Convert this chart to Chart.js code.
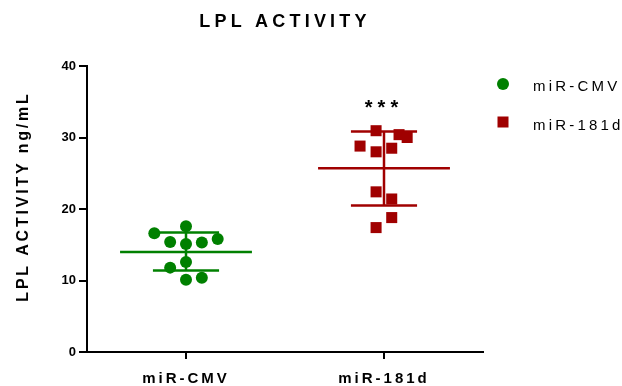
<!DOCTYPE html>
<html>
<head>
<meta charset="utf-8">
<script src="https://cdn.jsdelivr.net/npm/chart.js@4.4.0/dist/chart.umd.min.js"></script>
<style>
    html, body { margin: 0; padding: 0; background: #fff; }
    #wrap { position: relative; width: 622px; height: 386px; }
</style>
</head>
<body>
<div id="wrap"><canvas id="lplChart" width="622" height="386"></canvas></div>
<script>
// Группы и цвета
const groups = ["miR-CMV", "miR-181d"];
const groupColors = ["#008000", "#A00000"];

// Отдельные точки (смещение по x внутри группы и значение)
const cmvOffset = [-0.16, 0, -0.08, 0, 0.08, 0.16, 0, -0.08, 0, 0.08];
const cmvValues = [16.6, 17.6, 15.4, 15.1, 15.3, 15.8, 12.6, 11.8, 10.1, 10.4];
const mir181Offset = [-0.04, 0.076, 0.117, -0.121, -0.04, 0.039, -0.04, 0.039, 0.039, -0.04];
const mir181Values = [30.95, 30.4, 30.0, 28.8, 28.0, 28.5, 22.4, 21.4, 18.8, 17.4];

// Среднее и SD
const groupMean = [14.0, 25.7];
const groupSdLow = [11.4, 20.5];
const groupSdHigh = [16.7, 30.85];

const yTicks = [0, 10, 20, 30, 40];
const sigLabel = "***";
const sigValue = 34;

const FONT = "'Liberation Sans', Arial, sans-serif";
const meanHalf = 0.333;
const sdHalf = 0.167;

function segment(x0, y0, x1, y1, color) {
    return {
        type: "scatter",
        data: [{ x: x0, y: y0 }, { x: x1, y: y1 }],
        showLine: true,
        borderColor: color,
        borderWidth: 2.5,
        pointRadius: 0,
        pointHoverRadius: 0,
    };
}

const lineSets = [];
groups.forEach(function (g, i) {
    const c = i + 1;
    const col = groupColors[i];
    lineSets.push(segment(c - meanHalf, groupMean[i], c + meanHalf, groupMean[i], col));
    lineSets.push(segment(c - sdHalf, groupSdHigh[i], c + sdHalf, groupSdHigh[i], col));
    lineSets.push(segment(c - sdHalf, groupSdLow[i], c + sdHalf, groupSdLow[i], col));
    lineSets.push(segment(c, groupSdLow[i], c, groupSdHigh[i], col));
});

const pointSets = [
    {
        type: "scatter",
        label: groups[0],
        data: cmvValues.map((v, k) => ({ x: 1 + cmvOffset[k], y: v })),
        pointStyle: "circle",
        pointRadius: 6,
        backgroundColor: groupColors[0],
        borderColor: groupColors[0],
        borderWidth: 0,
    },
    {
        type: "scatter",
        label: groups[1],
        data: mir181Values.map((v, k) => ({ x: 2 + mir181Offset[k], y: v })),
        pointStyle: "rect",
        pointRadius: 7.8,
        backgroundColor: groupColors[1],
        borderColor: groupColors[1],
        borderWidth: 0,
    },
];

// Подписи, заголовки и легенда
const textPlugin = {
    id: "texts",
    afterDraw(chart) {
        const ctx = chart.ctx;
        const area = chart.chartArea;
        const xs = chart.scales.x;
        const ys = chart.scales.y;
        ctx.save();
        ctx.fillStyle = "#000";

        // заголовок
        ctx.font = "bold 18px " + FONT;
        ctx.letterSpacing = "4.2px";
        ctx.textAlign = "center";
        ctx.textBaseline = "middle";
        ctx.fillText("LPL ACTIVITY", (area.left + area.right) / 2, 22);

        // подписи категорий
        ctx.font = "bold 15px " + FONT;
        ctx.letterSpacing = "3px";
        ctx.textBaseline = "alphabetic";
        groups.forEach(function (g, i) {
            ctx.fillText(g, xs.getPixelForValue(i + 1), 383);
        });

        // звёздочки
        ctx.font = "bold 20px " + FONT;
        ctx.letterSpacing = "5px";
        ctx.textBaseline = "middle";
        ctx.fillText(sigLabel, xs.getPixelForValue(2), ys.getPixelForValue(sigValue));

        // подпись оси Y
        ctx.save();
        ctx.translate(24, 196.5);
        ctx.rotate(-Math.PI / 2);
        ctx.font = "bold 16px " + FONT;
        ctx.letterSpacing = "2.8px";
        ctx.textBaseline = "middle";
        ctx.fillText("LPL ACTIVITY ng/mL", 0, 0);
        ctx.restore();

        // легенда
        const lx = area.right + 20;
        ctx.fillStyle = groupColors[0];
        ctx.beginPath();
        ctx.arc(lx, 84, 6, 0, Math.PI * 2);
        ctx.fill();
        ctx.fillStyle = groupColors[1];
        ctx.fillRect(lx - 5.5, 122 - 5.5, 11, 11);

        ctx.fillStyle = "#000";
        ctx.font = "15px " + FONT;
        ctx.letterSpacing = "3.2px";
        ctx.textAlign = "left";
        ctx.textBaseline = "middle";
        ctx.fillText(groups[0], lx + 30, 87);
        ctx.fillText(groups[1], lx + 30, 126);
        ctx.restore();
    },
};

const ctx1 = document.getElementById("lplChart").getContext("2d");
new Chart(ctx1, {
    data: { datasets: lineSets.concat(pointSets) },
    options: {
        responsive: false,
        animation: false,
        devicePixelRatio: 1,
        layout: { padding: { top: 66, right: 139, bottom: 0, left: 0 } },
        plugins: {
            legend: { display: false },
            tooltip: { enabled: false },
        },
        scales: {
            x: {
                type: "linear",
                min: 0.5,
                max: 2.5,
                afterBuildTicks: (s) => {
                    s.ticks = groups.map((g, i) => ({ value: i + 1 }));
                },
                ticks: { display: false },
                grid: {
                    display: true,
                    drawOnChartArea: false,
                    drawTicks: true,
                    tickLength: 7,
                    color: "#000",
                    lineWidth: 2,
                },
                border: { display: true, color: "#000", width: 2 },
                afterFit: (s) => {
                    s.height = 34;
                },
            },
            y: {
                min: 0,
                max: 40,
                afterBuildTicks: (s) => {
                    s.ticks = yTicks.map((v) => ({ value: v }));
                },
                ticks: {
                    color: "#000",
                    padding: 3,
                    font: { family: FONT, size: 13, weight: "bold" },
                },
                grid: {
                    display: true,
                    drawOnChartArea: false,
                    drawTicks: true,
                    tickLength: 8,
                    color: "#000",
                    lineWidth: 2,
                },
                border: { display: true, color: "#000", width: 2 },
                afterFit: (s) => {
                    s.width = 87;
                },
            },
        },
    },
    plugins: [textPlugin],
});
</script>
</body>
</html>
